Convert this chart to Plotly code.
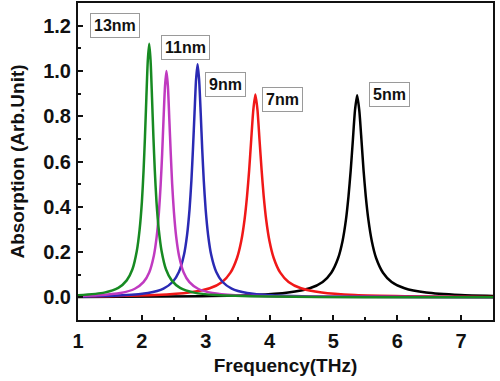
import plotly.graph_objects as go

# ---- data ----
x_13nm = [1.0, 1.411, 1.631, 1.763, 1.851, 1.921, 1.965, 2.001, 2.027, 2.049, 2.071, 2.093, 2.115,
          2.137, 2.159, 2.181, 2.203, 2.229, 2.265, 2.309, 2.379, 2.467, 2.599, 2.819, 3.171, 4.0, 5.5, 7.5]
y_13nm = [0.009, 0.021, 0.042, 0.075, 0.123, 0.205, 0.299, 0.423, 0.56, 0.709, 0.884, 1.045, 1.12,
          1.045, 0.884, 0.709, 0.56, 0.423, 0.299, 0.205, 0.123, 0.075, 0.042, 0.021, 0.010, 0.0034, 0.001, 0.0005]

x_11nm = [1.0, 1.305, 1.665, 1.89, 2.025, 2.115, 2.187, 2.232, 2.268, 2.295, 2.318, 2.34, 2.363, 2.385,
          2.408, 2.43, 2.453, 2.475, 2.502, 2.538, 2.583, 2.655, 2.745, 2.88, 3.105, 3.465, 4.5, 7.5]
y_11nm = [0.0055, 0.009, 0.019, 0.038, 0.067, 0.110, 0.183, 0.267, 0.378, 0.5, 0.633, 0.789, 0.933, 1.0,
          0.933, 0.789, 0.633, 0.5, 0.378, 0.267, 0.183, 0.110, 0.067, 0.038, 0.019, 0.009, 0.0025, 0.0005]

x_9nm = [1.0, 1.127, 1.709, 2.097, 2.339, 2.485, 2.582, 2.66, 2.708, 2.747, 2.776, 2.80, 2.825, 2.849, 2.873,
         2.897, 2.922, 2.946, 2.97, 2.999, 3.038, 3.086, 3.164, 3.261, 3.407, 3.649, 4.037, 4.619, 7.5]
y_9nm = [0.0037, 0.0042, 0.0091, 0.0195, 0.039, 0.069, 0.113, 0.188, 0.275, 0.389, 0.515, 0.652, 0.813, 0.961, 1.03,
         0.961, 0.813, 0.652, 0.515, 0.389, 0.275, 0.188, 0.113, 0.069, 0.039, 0.0195, 0.0091, 0.0042, 0.001]

x_7nm = [1.0, 1.438, 2.218, 2.738, 3.063, 3.258, 3.388, 3.492, 3.557, 3.609, 3.648, 3.681, 3.713, 3.746, 3.778,
         3.811, 3.843, 3.876, 3.908, 3.947, 3.999, 4.064, 4.168, 4.298, 4.493, 4.818, 5.338, 6.118, 7.5]
y_7nm = [0.0036, 0.005, 0.010, 0.021, 0.040, 0.068, 0.109, 0.175, 0.249, 0.344, 0.448, 0.562, 0.696, 0.828, 0.896,
         0.828, 0.696, 0.562, 0.448, 0.344, 0.249, 0.175, 0.109, 0.068, 0.040, 0.021, 0.010, 0.005, 0.002]

x_5nm = [1.0, 2.942, 3.752, 4.292, 4.63, 4.832, 4.967, 5.075, 5.143, 5.197, 5.237, 5.271, 5.305, 5.338, 5.372,
         5.406, 5.44, 5.473, 5.507, 5.548, 5.602, 5.669, 5.777, 5.912, 6.115, 6.452, 6.992, 7.5]
y_5nm = [0.0017, 0.005, 0.010, 0.021, 0.040, 0.068, 0.109, 0.174, 0.248, 0.343, 0.447, 0.560, 0.694, 0.825, 0.893,
         0.825, 0.694, 0.560, 0.447, 0.343, 0.248, 0.174, 0.109, 0.068, 0.040, 0.021, 0.010, 0.0062]

labels = ["13nm", "11nm", "9nm", "7nm", "5nm"]
label_x = [1.575, 2.677, 3.31, 4.2, 5.88]
label_y = [1.199, 1.105, 0.939, 0.872, 0.894]

x_ticks = [1, 2, 3, 4, 5, 6, 7]
y_ticks = [0.0, 0.2, 0.4, 0.6, 0.8, 1.0, 1.2]

series = [
    (x_5nm, y_5nm, "5nm", "#000000"),
    (x_7nm, y_7nm, "7nm", "#f01818"),
    (x_9nm, y_9nm, "9nm", "#2a2ab4"),
    (x_11nm, y_11nm, "11nm", "#c03ac0"),
    (x_13nm, y_13nm, "13nm", "#178a22"),
]

fig = go.Figure()
for xs, ys, name, col in series:
    fig.add_trace(go.Scatter(x=xs, y=ys, mode="lines", name=name,
                             line=dict(color=col, width=2.5, shape="spline", smoothing=0.6)))

for t, lx, ly in zip(labels, label_x, label_y):
    fig.add_annotation(x=lx, y=ly, xref="x", yref="y", text=t, showarrow=False,
                       font=dict(family="Liberation Sans, Arial", size=16, color="#111", weight="bold"),
                       bordercolor="#9a9a9a", borderwidth=1, borderpad=3, bgcolor="white")

axis_font = dict(family="Liberation Sans, Arial", size=20, color="#111", weight="bold")
title_font = dict(family="Liberation Sans, Arial", size=19, color="#111", weight="bold")

fig.update_layout(
    width=500, height=381,
    margin=dict(l=78, r=7, t=3, b=61),
    paper_bgcolor="white", plot_bgcolor="white",
    showlegend=False,
    xaxis=dict(range=[1, 7.5], tickvals=x_ticks, ticks="inside", ticklen=5, tickwidth=2,
               tickcolor="#111", showline=True, linecolor="#111", linewidth=2, mirror=True,
               showgrid=False, zeroline=False, tickfont=axis_font, ticklabelstandoff=2,
               automargin=False,
               minor=dict(ticks="inside", dtick=0.5, tick0=1, ticklen=3, tickwidth=2, tickcolor="#111"),
               title=dict(text="Frequency(THz)", font=title_font, standoff=8)),
    yaxis=dict(range=[-0.1, 1.3], tickvals=y_ticks, tickformat=".1f", ticks="inside", ticklen=5,
               tickwidth=2, tickcolor="#111", showline=True, linecolor="#111", linewidth=2, mirror=True,
               showgrid=False, zeroline=False, tickfont=axis_font, ticklabelstandoff=1,
               automargin=False,
               minor=dict(ticks="inside", dtick=0.1, tick0=0, ticklen=3, tickwidth=2, tickcolor="#111"),
               title=dict(text="Absorption (Arb.Unit)", font=title_font, standoff=14)),
)

fig.write_html("out.html", config={"displayModeBar": False},
               post_script="document.body.style.margin='0';document.body.style.padding='0';")
